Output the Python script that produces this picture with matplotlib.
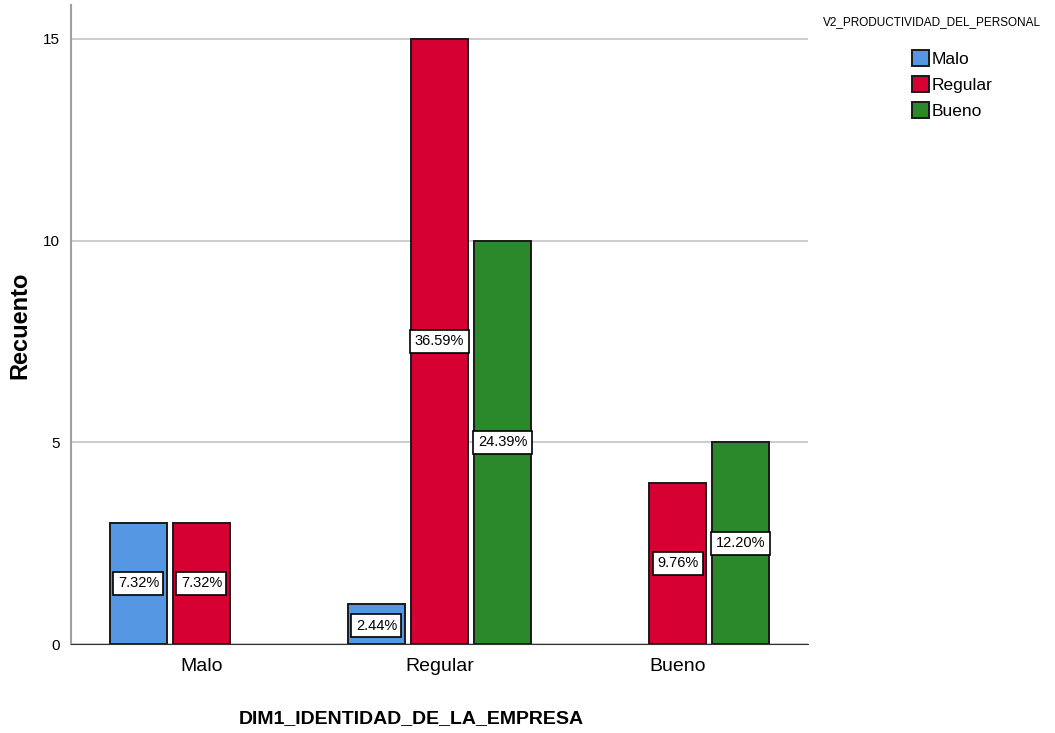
import numpy as np
import matplotlib.pyplot as plt
from matplotlib.patches import Patch

# conteos por categoria de DIM1 (x) y V2 (series)
categorias = ["Malo", "Regular", "Bueno"]
series = ["Malo", "Regular", "Bueno"]
malo = np.array([3, 1, 0])
regular = np.array([3, 15, 4])
bueno = np.array([0, 10, 5])
colores = ["#5597E3", "#D60032", "#2B882B"]

total = malo.sum() + regular.sum() + bueno.sum()
fuente = ["Liberation Sans Narrow", "Liberation Sans", "DejaVu Sans"]

fig = plt.figure(figsize=(10.55, 7.33), dpi=100)
ax = fig.add_axes([71/1055, 89/733, 737/1055, 639/733])

x = np.arange(len(categorias))
ancho = 0.2395
paso = 0.2647
for i, (vals, col) in enumerate(zip([malo, regular, bueno], colores)):
    pos = x + (i - 1) * paso
    for p, v in zip(pos, vals):
        if v == 0:
            continue
        ax.bar(p, v, width=ancho, color=col, edgecolor="#1a1a1a", linewidth=1.4, zorder=3)
        ax.text(p, v / 2 if v > 1 else 0.45, "%.2f%%" % (100 * v / total),
                ha="center", va="center", fontsize=10.5, family=fuente, zorder=4,
                bbox=dict(boxstyle="square,pad=0.3", fc="white", ec="black", lw=1.2))

ax.set_xlim(-0.548, 2.548)
ax.set_ylim(0, 15.84)
ax.set_yticks([0, 5, 10, 15])
ax.set_xticks(x)
ax.set_xticklabels(categorias, fontsize=14, family=fuente)
for t in ax.get_yticklabels():
    t.set_fontsize(11)
    t.set_family(fuente)
ax.yaxis.grid(True, color="#c8c8c8", linewidth=1.3, zorder=0)
ax.tick_params(axis="y", length=0, pad=8)
ax.tick_params(axis="x", length=0, pad=10)
for s in ["top", "right"]:
    ax.spines[s].set_visible(False)
ax.spines["left"].set_color("#a0a0a0")
ax.spines["left"].set_linewidth(1.5)
ax.spines["bottom"].set_color("#333333")

fig.text(20/1055, 1 - 325/733, "Recuento", rotation=90, ha="center", va="center",
         fontsize=17, fontweight="bold", family=["Liberation Sans", "DejaVu Sans"])
fig.text(411/1055, 1 - 719/733, "DIM1_IDENTIDAD_DE_LA_EMPRESA", ha="center", va="center",
         fontsize=14, fontweight="bold", family=fuente)

handles = [Patch(facecolor=c, edgecolor="#1a1a1a", lw=1.4) for c in colores]
leg = fig.legend(handles, series, loc="upper left", bbox_to_anchor=(903/1055, 1 - 41/733),
                 frameon=False, prop=dict(family=fuente, size=12.5),
                 handlelength=1.0, handleheight=1.1, handletextpad=0.15, labelspacing=0.5,
                 borderpad=0)
fig.text(932/1055, 1 - 22/733, "V2_PRODUCTIVIDAD_DEL_PERSONAL", ha="center", va="center",
         fontsize=8.5, family=fuente)

fig.savefig("out.png", dpi=100)
